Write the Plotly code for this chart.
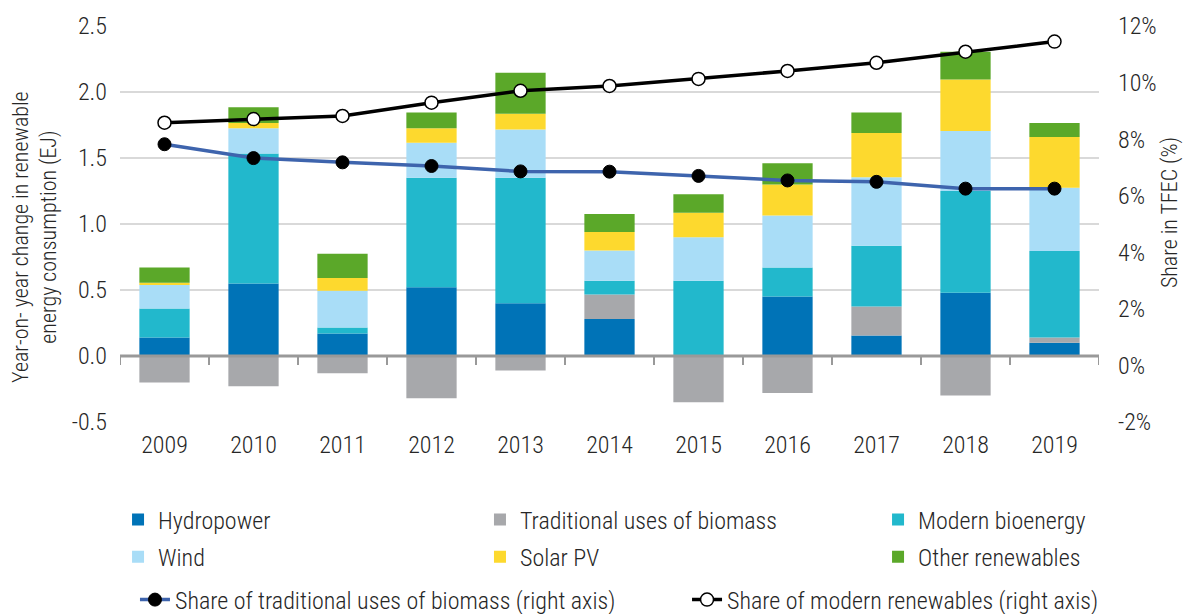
import plotly.graph_objects as go

# Years on the category axis
years = ["2009", "2010", "2011", "2012", "2013", "2014", "2015", "2016", "2017", "2018", "2019"]

# Year-on-year change in renewable energy consumption (EJ)
hydropower = [0.14, 0.55, 0.17, 0.52, 0.40, 0.28, 0.00, 0.45, 0.155, 0.48, 0.10]
traditional_biomass = [-0.20, -0.23, -0.13, -0.32, -0.11, 0.185, -0.35, -0.28, 0.22, -0.30, 0.04]
modern_bioenergy = [0.22, 0.985, 0.045, 0.83, 0.95, 0.105, 0.57, 0.22, 0.46, 0.77, 0.655]
wind = [0.18, 0.19, 0.28, 0.265, 0.365, 0.23, 0.33, 0.395, 0.52, 0.455, 0.48]
solar_pv = [0.015, 0.04, 0.095, 0.11, 0.12, 0.14, 0.185, 0.235, 0.335, 0.39, 0.385]
other_renewables = [0.115, 0.12, 0.185, 0.12, 0.31, 0.135, 0.14, 0.16, 0.155, 0.21, 0.105]

# Shares in total final energy consumption (%)
share_traditional = [7.82, 7.33, 7.18, 7.05, 6.86, 6.85, 6.70, 6.54, 6.49, 6.25, 6.25]
share_modern = [8.58, 8.71, 8.82, 9.29, 9.71, 9.88, 10.13, 10.41, 10.70, 11.09, 11.45]

# Axis tick labels
left_ticks = [-0.5, 0.0, 0.5, 1.0, 1.5, 2.0, 2.5]
left_labels = ["-0.5", "0.0", "0.5", "1.0", "1.5", "2.0", "2.5"]
right_ticks = [-2, 0, 2, 4, 6, 8, 10, 12]
right_labels = ["-2%", "0%", "2%", "4%", "6%", "8%", "10%", "12%"]

left_title = "Year-on- year change in renewable<br>energy consumption (EJ)"
right_title = "Share in TFEC (%)"

FONT = "Roboto Condensed, Liberation Sans Narrow, Arial Narrow, Roboto, sans-serif"
TEXT = "#262626"
AXIS_GREY = "#999999"

bar_series = [
    ("Hydropower", hydropower, "#0073b7", "legend"),
    ("Traditional uses of biomass", traditional_biomass, "#a7a8ab", "legend3"),
    ("Modern bioenergy", modern_bioenergy, "#22b8cc", "legend5"),
    ("Wind", wind, "#a9ddf7", "legend2"),
    ("Solar PV", solar_pv, "#fdd92e", "legend4"),
    ("Other renewables", other_renewables, "#5ba829", "legend6"),
]

fig = go.Figure()
for name, values, color, leg in bar_series:
    fig.add_trace(go.Bar(
        x=years, y=values, name=name, marker=dict(color=color, line=dict(width=0)),
        width=0.565, legend=leg, yaxis="y",
    ))

fig.add_trace(go.Scatter(
    x=years, y=share_traditional, name="Share of traditional uses of biomass (right axis)",
    mode="lines+markers", line=dict(color="#3e64ad", width=3.5),
    marker=dict(color="black", size=13, line=dict(color="black", width=1)),
    yaxis="y2", legend="legend7",
))
fig.add_trace(go.Scatter(
    x=years, y=share_modern, name="Share of modern renewables (right axis)",
    mode="lines+markers", line=dict(color="black", width=3.5),
    marker=dict(color="white", size=13, line=dict(color="black", width=1.5)),
    yaxis="y2", legend="legend8",
))

legend_common = dict(
    orientation="v", xanchor="left", yanchor="middle", bgcolor="rgba(0,0,0,0)",
    font=dict(family=FONT, size=24, color=TEXT, weight=300),
)
# Placement of each legend entry (paper coordinates)
legend_pos = {
    "legend": (-0.002, -0.2475),
    "legend2": (-0.002, -0.341),
    "legend3": (0.3677, -0.2475),
    "legend4": (0.3677, -0.341),
    "legend5": (0.7743, -0.2475),
    "legend6": (0.7743, -0.341),
    "legend7": (0.0153, -0.4495),
    "legend8": (0.5792, -0.4495),
}
legend_layout = {k: dict(legend_common, x=v[0], y=v[1]) for k, v in legend_pos.items()}

tick_font = dict(family=FONT, size=24, color=TEXT, weight=300)
title_font = dict(family=FONT, size=22, color=TEXT, weight=300)

# Zero baseline across the plot, with short ticks at each category boundary
shapes = [dict(type="line", xref="paper", yref="y", x0=0, x1=1, y0=0, y1=0,
               line=dict(color=AXIS_GREY, width=3), layer="above")]
for i in range(len(years) + 1):
    shapes.append(dict(type="line", xref="x", yref="y", ysizemode="pixel", yanchor=0,
                       x0=i - 0.5, x1=i - 0.5, y0=0, y1=-9,
                       line=dict(color=AXIS_GREY, width=2), layer="above"))

fig.update_layout(
    width=1184, height=614,
    margin=dict(l=120, r=85, t=26, b=192, autoexpand=False),
    paper_bgcolor="white", plot_bgcolor="white",
    barmode="relative",
    font=dict(family=FONT, color=TEXT, weight=300),
    showlegend=True,
    xaxis=dict(
        type="category", categoryorder="array", categoryarray=years, range=[-0.5, 10.5],
        showline=False, showgrid=False, zeroline=False, ticks="", ticklabelstandoff=6,
        tickfont=tick_font,
    ),
    yaxis=dict(
        range=[-0.5, 2.5], tickvals=left_ticks, ticktext=left_labels,
        showgrid=True, gridcolor="#d9d9d9", gridwidth=2, zeroline=False,
        showline=False, ticks="", ticklabelstandoff=12,
        tickfont=tick_font,
    ),
    yaxis2=dict(
        range=[-2, 12], tickvals=right_ticks, ticktext=right_labels,
        side="right", overlaying="y", anchor="x",
        showgrid=False, zeroline=False, showline=False, ticks="", ticklabelstandoff=18,
        tickfont=tick_font,
    ),
    shapes=shapes,
    annotations=[
        dict(text=left_title, xref="paper", yref="paper", x=-0.087, y=0.467,
             xanchor="center", yanchor="middle", textangle=-90, showarrow=False,
             font=title_font, align="center"),
        dict(text=right_title, xref="paper", yref="paper", x=1.0725, y=0.53,
             xanchor="center", yanchor="middle", textangle=-90, showarrow=False,
             font=title_font),
    ],
    **legend_layout,
)

fig.write_html("out.html")
